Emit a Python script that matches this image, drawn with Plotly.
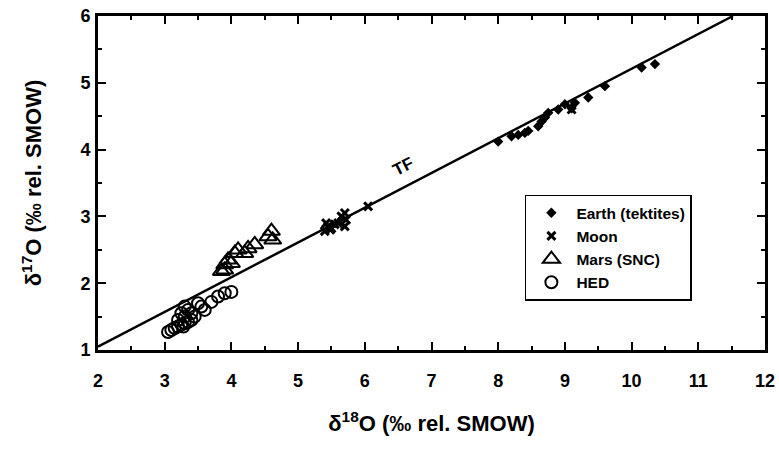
import plotly.graph_objects as go

# Earth (tektites)
earth_x = [8.0, 8.2, 8.3, 8.4, 8.45, 8.6, 8.65, 8.7, 8.75, 8.9, 9.0, 9.1, 9.15, 9.35, 9.6, 10.15, 10.35]
earth_y = [4.12, 4.2, 4.22, 4.25, 4.28, 4.35, 4.42, 4.48, 4.55, 4.6, 4.68, 4.62, 4.7, 4.78, 4.95, 5.23, 5.28]
# Moon
moon_x = [5.4, 5.42, 5.45, 5.48, 5.5, 5.55, 5.6, 5.65, 5.7, 5.72, 5.7, 6.05, 9.1]
moon_y = [2.78, 2.9, 2.85, 2.8, 2.82, 2.88, 2.9, 3.0, 2.85, 2.95, 3.05, 3.15, 4.6]
# Mars (SNC)
mars_x = [3.85, 3.9, 3.9, 3.95, 4.0, 4.05, 4.1, 4.2, 4.25, 4.35, 4.55, 4.6, 4.62]
mars_y = [2.18, 2.2, 2.28, 2.35, 2.3, 2.45, 2.5, 2.45, 2.52, 2.58, 2.7, 2.78, 2.65]
# HED
hed_x = [3.05, 3.1, 3.15, 3.2, 3.25, 3.3, 3.2, 3.3, 3.25, 3.35, 3.3, 3.4, 3.45, 3.5, 3.55, 3.6, 3.7, 3.8, 3.9, 4.0, 3.35, 3.4, 3.28]
hed_y = [1.27, 1.3, 1.33, 1.35, 1.38, 1.4, 1.45, 1.5, 1.55, 1.6, 1.65, 1.55, 1.5, 1.7, 1.65, 1.6, 1.72, 1.8, 1.85, 1.87, 1.42, 1.45, 1.35]
# Terrestrial fractionation line
tf_x = [2.0, 11.52]
tf_y = [1.05, 6.0]

FONT = "Liberation Sans, Arial"

fig = go.Figure()
fig.add_trace(go.Scatter(x=tf_x, y=tf_y, mode="lines", line=dict(color="black", width=2.5),
                         showlegend=False, hoverinfo="skip"))
fig.add_trace(go.Scatter(x=earth_x, y=earth_y, mode="markers", name="Earth (tektites)",
                         marker=dict(symbol="diamond", size=8, color="black")))
fig.add_trace(go.Scatter(x=moon_x, y=moon_y, mode="markers", name="Moon",
                         marker=dict(symbol="x-thin", size=8, color="black",
                                     line=dict(width=3, color="black"))))
fig.add_trace(go.Scatter(x=mars_x, y=mars_y, mode="markers", name="Mars (SNC)",
                         marker=dict(symbol="triangle-up-open", size=15, color="black",
                                     line=dict(width=2))))
fig.add_trace(go.Scatter(x=hed_x, y=hed_y, mode="markers", name="HED",
                         marker=dict(symbol="circle-open", size=12, color="black",
                                     line=dict(width=2))))

fig.add_annotation(x=6.58, y=3.74, text="<b>TF</b>", showarrow=False, textangle=-27,
                   font=dict(size=17, color="black", family=FONT))

axis_common = dict(showline=True, linecolor="black", linewidth=3, mirror="ticks",
                   ticks="inside", ticklen=8, tickwidth=2, tickcolor="black",
                   showgrid=False, zeroline=False, automargin=False,
                   ticklabeloverflow="allow",
                   tickfont=dict(size=18, color="black", family=FONT, weight="bold"),
                   minor=dict(dtick=0.5, ticks="inside", ticklen=4, tickwidth=1.5, tickcolor="black"))

fig.update_xaxes(range=[2, 12], dtick=1, tick0=2, ticklabelstandoff=12,
                 title=dict(text="<b>δ<sup>18</sup>O (‰ rel. SMOW)</b>", standoff=27,
                            font=dict(size=22, color="black", family=FONT)),
                 **axis_common)
fig.update_yaxes(range=[1, 6], dtick=1, tick0=1, ticklabelstandoff=1,
                 title=dict(text="<b>δ<sup>17</sup>O (‰ rel. SMOW)</b>", standoff=33,
                            font=dict(size=22, color="black", family=FONT)),
                 **axis_common)

fig.update_layout(
    width=779, height=449,
    margin=dict(l=98, r=14, t=16, b=99, autoexpand=False),
    plot_bgcolor="white", paper_bgcolor="white",
    font=dict(family=FONT, color="black"),
    legend=dict(x=0.64, y=0.465, xanchor="left", yanchor="top",
                bordercolor="black", borderwidth=1.5, bgcolor="white",
                font=dict(size=15.5, color="black", family=FONT, weight="bold"),
                tracegroupgap=0, itemwidth=40),
)

# remove the page's default body margin so the figure sits at the window's corner
fig.write_html("out.html", config={"displayModeBar": False},
               post_script="document.body.style.margin='0';")
